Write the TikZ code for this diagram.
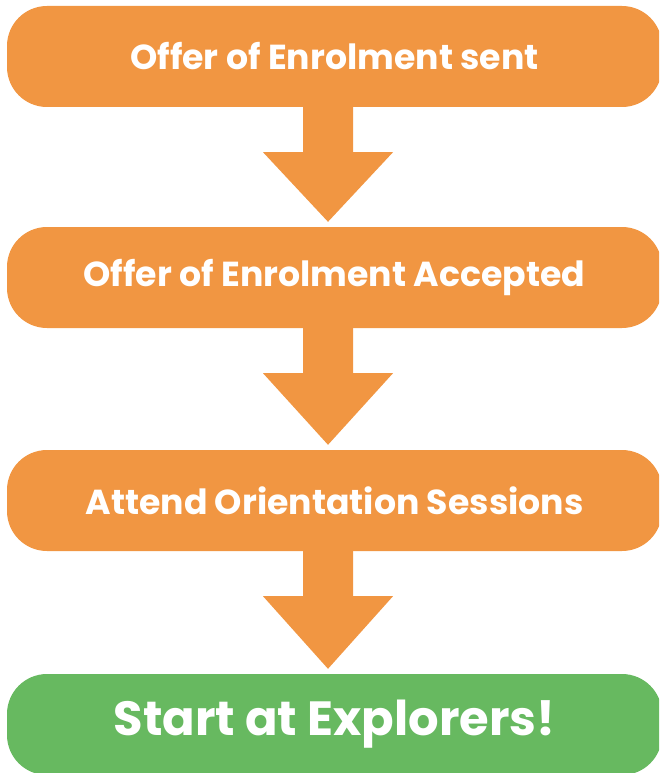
\documentclass[tikz,border=0pt]{standalone}
\usepackage{fontspec}
\setmainfont{Poppins}
\usetikzlibrary{calc}
\definecolor{orng}{RGB}{241,150,66}
\definecolor{grn}{RGB}{103,185,96}
\begin{document}
\begin{tikzpicture}[x=1pt,y=-1pt,
  stepbox/.style={rectangle, rounded corners=40pt, minimum width=655pt, minimum height=101pt,
    inner sep=0pt, text=white, font=\bfseries\fontsize{34.7}{40}\selectfont},
  blockarr/.style={fill=orng, draw=none}]
\useasboundingbox (0,0) rectangle (659,773);
\begin{scope}
\clip (0,0) rectangle (659,773);
\node[stepbox, fill=orng] (a) at (334.5,56.5) {Offer of Enrolment sent};
\node[stepbox, fill=orng] (b) at (334.5,277.5) {Offer of Enrolment Accepted};
\node[stepbox, fill=orng] (c) at (334.5,500.5) {Attend Orientation Sessions};
\node[stepbox, fill=grn, font=\bfseries\fontsize{48}{54}\selectfont] (d) at (334.5,724.5) {Start at Explorers!};
\foreach \u/\v in {a/b, b/c, c/d}{
  \fill[blockarr]
    ($(\u.south)+(-31.5,-0.5)$) -- ($(\u.south)+(18.5,-0.5)$) -- ($(\u.south)+(18.5,45)$)
    -- ($(\u.south)+(58.5,45)$) -- ($(\v.north)+(-6.5,-5)$) -- ($(\u.south)+(-71.5,45)$)
    -- ($(\u.south)+(-31.5,45)$) -- cycle;
}
\end{scope}
\end{tikzpicture}
\end{document}
